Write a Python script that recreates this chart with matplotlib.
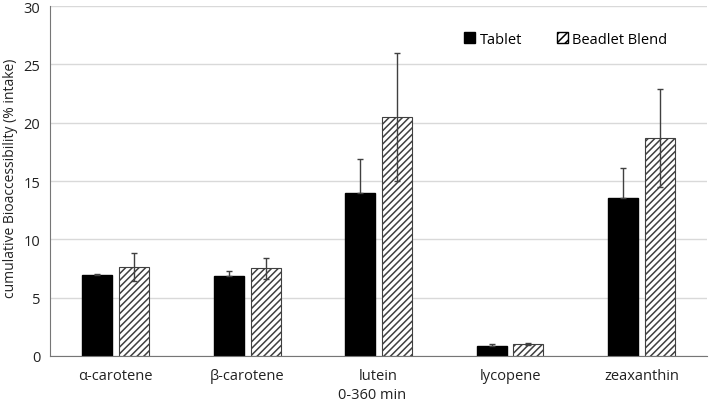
import numpy as np
import matplotlib
matplotlib.use("Agg")
from matplotlib import pyplot as plt
from matplotlib.patches import Patch

plt.rcParams['font.family'] = ['Open Sans', 'DejaVu Sans']
plt.rcParams['hatch.linewidth'] = 1.1

categories = ['α-carotene', 'β-carotene', 'lutein', 'lycopene', 'zeaxanthin']
tablet = [6.97, 6.83, 14.0, 0.83, 13.55]
tablet_err = [0.1, 0.45, 2.9, 0.17, 2.6]
beadlet = [7.6, 7.54, 20.5, 1.03, 18.7]
beadlet_err = [1.2, 0.9, 5.5, 0.08, 4.2]
yticks = [0, 5, 10, 15, 20, 25, 30]

fig = plt.figure(figsize=(7.09, 4.06), dpi=100)
ax = fig.add_axes([0.0705, 0.1207, 0.927, 0.862])

x = np.arange(len(categories))
w = 0.228
off = 0.14
ekw = dict(ecolor='#404040', elinewidth=1.0, capsize=2.5, capthick=1.0)

# lower half of the tablet error bars is hidden inside the black bars
ax.bar(x - off, tablet, w, color='black', edgecolor='black', zorder=2,
       yerr=[np.zeros(len(tablet)), tablet_err], error_kw=ekw)
ax.bar(x + off, beadlet, w, color='white', edgecolor='#404040', hatch='/////',
       linewidth=0.8, zorder=2, yerr=beadlet_err, error_kw=ekw)

ax.set_xlim(-0.5, len(categories) - 0.5)
ax.set_ylim(0, 30)
ax.set_yticks(yticks)
ax.set_xticks(x)
ax.set_xticklabels(categories)
ax.tick_params(axis='y', length=0, labelsize=10.5, colors='#222222', pad=7)
ax.tick_params(axis='x', length=0, labelsize=10.5, colors='#222222', pad=9)
ax.yaxis.grid(True, color='#d9d9d9', linewidth=1.0, zorder=0)
ax.set_axisbelow(True)
for s in ['top', 'right']:
    ax.spines[s].set_visible(False)
ax.spines['left'].set_color('#767676')
ax.spines['bottom'].set_color('#767676')

ax.set_ylabel('cumulative Bioaccessibility (% intake)', fontsize=10, color='#222222')
ax.yaxis.set_label_coords(-0.049, 0.51)
ax.set_xlabel('0-360 min', fontsize=10.5, color='#222222')
ax.xaxis.set_label_coords(0.49, -0.09)

handles = [Patch(facecolor='black', edgecolor='black'),
           Patch(facecolor='white', edgecolor='black', hatch='////')]
ax.legend(handles, ['Tablet', 'Beadlet Blend'], ncol=2, frameon=False,
          fontsize=10.5, loc='center', bbox_to_anchor=(0.785, 0.905),
          handlelength=0.75, handleheight=0.75, handletextpad=0.3, columnspacing=2.4)

fig.savefig('out.png', dpi=100)
